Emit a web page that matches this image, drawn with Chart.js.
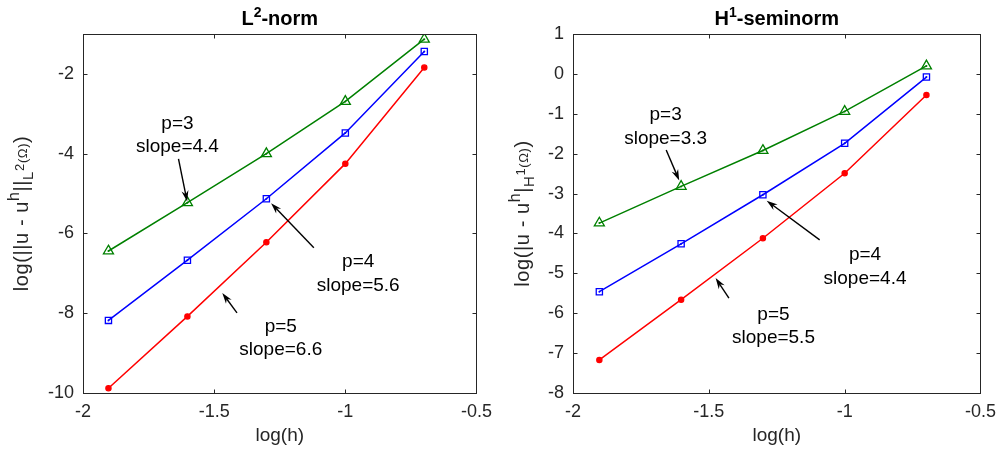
<!DOCTYPE html>
<html>
<head>
<meta charset="utf-8">
<script src="https://cdn.jsdelivr.net/npm/chart.js@4.4.1/dist/chart.umd.min.js"></script>
<style>
  html, body { margin: 0; padding: 0; background: #fff; }
  #wrap { position: relative; width: 1004px; height: 455px; }
  canvas { position: absolute; top: 0; }
</style>
</head>
<body>
<div id="wrap">
  <canvas id="left" width="500" height="455" style="left:0"></canvas>
  <canvas id="right" width="504" height="455" style="left:500px"></canvas>
</div>
<script>
// log10(h) for h = 0.0125 ... 0.2
const logH = [-1.903, -1.602, -1.301, -1.000, -0.699];

const l2P3 = [-6.44, -5.23, -4.00, -2.69, -1.13];
const l2P4 = [-8.18, -6.67, -5.13, -3.48, -1.44];
const l2P5 = [-9.88, -8.08, -6.22, -4.25, -1.84];

const h1P3 = [-3.74, -2.82, -1.92, -0.94, 0.20];
const h1P4 = [-5.46, -4.26, -3.03, -1.74, -0.08];
const h1P5 = [-7.17, -5.66, -4.12, -2.49, -0.53];

const xTicks = [-2, -1.5, -1, -0.5];
const l2Ticks = [-10, -8, -6, -4, -2];
const h1Ticks = [-8, -7, -6, -5, -4, -3, -2, -1, 0, 1];

// text notes: label block centre + arrow tail/tip, in data units
const l2Notes = [
  { lines: ["p=3", "slope=4.4"], x: -1.640, y: -3.24, from: [-1.636, -4.13], to: [-1.603, -5.20] },
  { lines: ["p=4", "slope=5.6"], x: -0.951, y: -6.72, from: [-1.120, -6.36], to: [-1.283, -5.24] },
  { lines: ["p=5", "slope=6.6"], x: -1.246, y: -8.33, from: [-1.413, -7.99], to: [-1.469, -7.49] }
];
const h1Notes = [
  { lines: ["p=3", "slope=3.3"], x: -1.659, y: -1.03, from: [-1.657, -1.91], to: [-1.609, -2.67] },
  { lines: ["p=4", "slope=4.4"], x: -0.925, y: -4.54, from: [-1.092, -4.16], to: [-1.287, -3.18] },
  { lines: ["p=5", "slope=5.5"], x: -1.262, y: -6.04, from: [-1.426, -5.62], to: [-1.475, -5.12] }
];

const FONT = "'Liberation Sans', Arial, Helvetica, sans-serif";
const AX = "#262626";
const GREEN = "rgb(0,128,0)", BLUE = "rgb(0,0,255)", RED = "rgb(255,0,0)";

function pts(ys) { return logH.map((x, i) => ({ x, y: ys[i] })); }

function series(ys, color, style, radius, fill) {
  return {
    data: pts(ys), borderColor: color, borderWidth: 1.5, tension: 0,
    pointStyle: style, pointRadius: radius, pointBorderWidth: 1.3,
    pointBorderColor: color, pointBackgroundColor: fill ? color : "rgba(0,0,0,0)"
  };
}
function dots(ys, color) {
  return { data: pts(ys), showLine: false, pointRadius: 1, pointStyle: "circle",
    pointBorderWidth: 0, pointBackgroundColor: color, borderColor: color };
}

// draw a run of text pieces (with super/subscripts) centred at 0, baseline 0
function drawRich(ctx, pieces, bold, spacing) {
  ctx.letterSpacing = (spacing || 0) + "px";
  const w = pieces.reduce((s, p) => {
    ctx.font = (bold ? "bold " : "") + p.size + "px " + FONT;
    return s + ctx.measureText(p.t).width;
  }, 0);
  let cx = -w / 2;
  ctx.textBaseline = "alphabetic";
  ctx.textAlign = "left";
  pieces.forEach(p => {
    ctx.font = (bold ? "bold " : "") + p.size + "px " + FONT;
    ctx.fillText(p.t, cx, p.dy || 0);
    cx += ctx.measureText(p.t).width;
  });
  ctx.letterSpacing = "0px";
}

function arrow(ctx, x1, y1, x2, y2) {
  const ang = Math.atan2(y2 - y1, x2 - x1);
  const L = 11, W = 3.5;
  ctx.beginPath();
  ctx.moveTo(x1, y1);
  ctx.lineTo(x2 - Math.cos(ang) * 6, y2 - Math.sin(ang) * 6);
  ctx.stroke();
  ctx.beginPath();
  ctx.moveTo(x2, y2);
  ctx.lineTo(x2 - Math.cos(ang) * L + Math.sin(ang) * W, y2 - Math.sin(ang) * L - Math.cos(ang) * W);
  ctx.lineTo(x2 - Math.cos(ang) * 7.5, y2 - Math.sin(ang) * 7.5);
  ctx.lineTo(x2 - Math.cos(ang) * L - Math.sin(ang) * W, y2 - Math.sin(ang) * L + Math.cos(ang) * W);
  ctx.closePath();
  ctx.fill();
}

const matlabPlugin = {
  id: "matlab",
  afterDraw(chart, args, o) {
    const { ctx, chartArea: a } = chart;
    const sx = chart.scales.x, sy = chart.scales.y;
    ctx.save();
    // axes box
    ctx.strokeStyle = AX;
    ctx.lineWidth = 1;
    const L = Math.round(a.left) + 0.5, R = Math.round(a.right) + 0.5;
    const T = Math.round(a.top) + 0.5, B = Math.round(a.bottom) + 0.5;
    ctx.strokeRect(L, T, R - L, B - T);
    // inward ticks on all sides
    ctx.beginPath();
    sx.ticks.forEach(t => {
      const px = Math.round(sx.getPixelForValue(t.value)) + 0.5;
      ctx.moveTo(px, B); ctx.lineTo(px, B - 4);
      ctx.moveTo(px, T); ctx.lineTo(px, T + 4);
    });
    sy.ticks.forEach(t => {
      const py = Math.round(sy.getPixelForValue(t.value)) + 0.5;
      ctx.moveTo(L, py); ctx.lineTo(L + 4, py);
      ctx.moveTo(R, py); ctx.lineTo(R - 4, py);
    });
    ctx.stroke();

    // notes
    ctx.fillStyle = "#000";
    ctx.strokeStyle = "#000";
    ctx.lineWidth = 1.4;
    ctx.font = "19px " + FONT;
    ctx.textAlign = "center";
    ctx.textBaseline = "middle";
    o.notes.forEach(n => {
      const px = sx.getPixelForValue(n.x), py = sy.getPixelForValue(n.y);
      n.lines.forEach((ln, i) => ctx.fillText(ln, px, py + i * 23.3));
      arrow(ctx, sx.getPixelForValue(n.from[0]), sy.getPixelForValue(n.from[1]),
        sx.getPixelForValue(n.to[0]), sy.getPixelForValue(n.to[1]));
    });

    // title
    ctx.fillStyle = "#000";
    ctx.save();
    ctx.translate((a.left + a.right) / 2, 25);
    drawRich(ctx, o.title, true, 0);
    ctx.restore();

    // x label
    ctx.fillStyle = AX;
    ctx.font = "19px " + FONT;
    ctx.textAlign = "center";
    ctx.textBaseline = "middle";
    ctx.fillText("log(h)", (a.left + a.right) / 2, 436);

    // y label
    ctx.save();
    ctx.translate(o.yLabelX, (a.top + a.bottom) / 2);
    ctx.rotate(-Math.PI / 2);
    drawRich(ctx, o.yLabel, false, 0.6);
    ctx.restore();
    ctx.restore();
  }
};

function makeChart(id, cfg) {
  const tickFont = { family: FONT, size: 18 };
  return new Chart(document.getElementById(id), {
    type: "line",
    data: { datasets: cfg.datasets },
    options: {
      responsive: false, animation: false, devicePixelRatio: 1,
      layout: { padding: { top: 34, right: cfg.padRight, left: 0, bottom: 0 } },
      plugins: {
        legend: { display: false }, tooltip: { enabled: false },
        matlab: { notes: cfg.notes, title: cfg.title, yLabel: cfg.yLabel, yLabelX: cfg.yLabelX }
      },
      scales: {
        x: {
          type: "linear", min: -2, max: -0.5,
          afterBuildTicks: s => { s.ticks = xTicks.map(v => ({ value: v })); },
          afterFit: s => { s.height = 62; },
          grid: { display: false, drawTicks: false }, border: { display: false },
          ticks: { font: tickFont, color: AX, padding: 8, maxRotation: 0, autoSkip: false, callback: v => String(v) }
        },
        y: {
          type: "linear", min: cfg.yMin, max: cfg.yMax,
          afterBuildTicks: s => { s.ticks = cfg.yTicks.map(v => ({ value: v })); },
          afterFit: s => { s.width = cfg.yWidth; },
          grid: { display: false, drawTicks: false }, border: { display: false },
          ticks: { font: tickFont, color: AX, padding: 9, autoSkip: false, callback: v => String(v) }
        }
      }
    },
    plugins: [matlabPlugin]
  });
}

makeChart("left", {
  datasets: [
    series(l2P3, GREEN, "triangle", 5.8, false), dots(l2P3, GREEN),
    series(l2P4, BLUE, "rect", 4.4, false), dots(l2P4, BLUE),
    series(l2P5, RED, "circle", 2.6, true)
  ],
  notes: l2Notes, yMin: -10, yMax: -1, yTicks: l2Ticks, yWidth: 83, padRight: 13,
  title: [{ t: "L", size: 20 }, { t: "2", size: 14, dy: -8 }, { t: "-norm", size: 20 }],
  yLabel: [
    { t: "log(||u - u", size: 20 }, { t: "h", size: 16, dy: -9 }, { t: "||", size: 20 },
    { t: "L", size: 15, dy: 5 }, { t: "2", size: 13, dy: -4 }, { t: "(Ω)", size: 13, dy: -1 },
    { t: ")", size: 20 }
  ],
  yLabelX: 28
});

makeChart("right", {
  datasets: [
    series(h1P3, GREEN, "triangle", 5.8, false), dots(h1P3, GREEN),
    series(h1P4, BLUE, "rect", 4.4, false), dots(h1P4, BLUE),
    series(h1P5, RED, "circle", 2.6, true)
  ],
  notes: h1Notes, yMin: -8, yMax: 1, yTicks: h1Ticks, yWidth: 73, padRight: 20,
  title: [{ t: "H", size: 20 }, { t: "1", size: 14, dy: -8 }, { t: "-seminorm", size: 20 }],
  yLabel: [
    { t: "log(|u - u", size: 20 }, { t: "h", size: 16, dy: -9 }, { t: "|", size: 20 },
    { t: "H", size: 15, dy: 5 }, { t: "1", size: 13, dy: -4 }, { t: "(Ω)", size: 13, dy: -1 },
    { t: ")", size: 20 }
  ],
  yLabelX: 29
});
</script>
</body>
</html>
